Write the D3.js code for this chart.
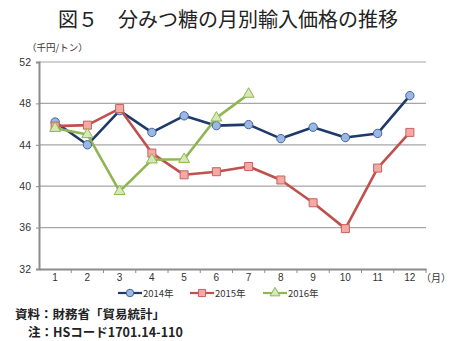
<!DOCTYPE html>
<html><head><meta charset="utf-8">
<script src="https://cdn.jsdelivr.net/npm/d3@7"></script>
<style>
html,body{margin:0;padding:0;background:#fff;}
svg{display:block;font-family:"Noto Sans CJK JP","Noto Sans",sans-serif;}
</style></head>
<body>
<script>
const months = ["1","2","3","4","5","6","7","8","9","10","11","12"];
const yTicks = [32, 36, 40, 44, 48, 52];
const seriesNames = ["2014年", "2015年", "2016年"];
const v2014 = [46.2, 44.0, 47.3, 45.2, 46.8, 45.85, 45.95, 44.6, 45.7, 44.7, 45.1, 48.75];
const v2015 = [45.8, 45.9, 47.5, 43.2, 41.1, 41.4, 41.9, 40.6, 38.4, 35.9, 41.75, 45.2];
const v2016 = [45.6, 45.0, 39.5, 42.55, 42.6, 46.6, 48.9];
const titleText = "図５　分みつ糖の月別輸入価格の推移";
const unitText = "（千円/トン）";
const monthUnit = "（月）";
const note1 = "資料：財務省「貿易統計」";
const note2 = "注：HSコード1701.14-110";

const W = 453, H = 341;
const svg = d3.select("body").append("svg").attr("width", W).attr("height", H);

const x = d3.scaleBand().domain(months).range([39, 426]).paddingInner(0).paddingOuter(0);
const y = d3.scaleLinear().domain([32, 52]).range([269, 62]);
const cx = m => x(m) + x.bandwidth() / 2;

// title
svg.append("text").attr("x", 228).attr("y", 27).attr("text-anchor", "middle")
  .attr("font-size", 20).attr("fill", "#222").text(titleText);
// unit
svg.append("text").attr("x", 27).attr("y", 51).attr("font-size", 9.5).attr("fill", "#333").text(unitText);

// gridlines
svg.append("g").selectAll("line").data(yTicks.filter(t => t > 32)).join("line")
  .attr("x1", 39).attr("x2", 426).attr("y1", d => y(d)).attr("y2", d => y(d))
  .attr("stroke", "#a6a6a6").attr("stroke-width", 1.2);

// y axis
const yAxis = d3.axisLeft(y).tickValues(yTicks).tickSize(3).tickPadding(5).tickFormat(d3.format("d"));
const gy = svg.append("g").attr("transform", "translate(39,0)").call(yAxis);
gy.select(".domain").attr("stroke", "#8c8c8c").attr("stroke-width", 2);
gy.selectAll(".tick line").attr("stroke", "#8c8c8c");
gy.selectAll("text").attr("font-size", 10.5).attr("fill", "#333").attr("font-family", "Liberation Sans, Arial, sans-serif");

// x axis
const xAxis = d3.axisBottom(x).tickSize(0).tickPadding(5);
const gx = svg.append("g").attr("transform", "translate(0,269)").call(xAxis);
gx.select(".domain").attr("stroke", "#8c8c8c").attr("stroke-width", 2);
gx.selectAll("text").attr("font-size", 10).attr("fill", "#333").attr("font-family", "Liberation Sans, Arial, sans-serif");
// boundary tick marks
svg.append("g").selectAll("line").data(months.slice(1).concat(["end"])).join("line")
  .attr("x1", (d, i) => i < 11 ? x(d) : 426).attr("x2", (d, i) => i < 11 ? x(d) : 426)
  .attr("y1", 269).attr("y2", 273).attr("stroke", "#8c8c8c").attr("stroke-width", 1);
svg.append("text").attr("x", 421).attr("y", 282).attr("font-size", 10).attr("fill", "#333").text(monthUnit);

const styles = [
  {vals: v2014, line: "#1f3a68", fill: "#9db8e0", stroke: "#3f64a6", shape: "circle"},
  {vals: v2015, line: "#c0504d", fill: "#f4a9a6", stroke: "#c9605c", shape: "square"},
  {vals: v2016, line: "#8fb651", fill: "#d6e8b8", stroke: "#8fb651", shape: "triangle"}
];
const sym = {circle: d3.symbolCircle, square: d3.symbolSquare, triangle: d3.symbolTriangle};
const size = {circle: 55, square: 64, triangle: 52};

const line = d3.line().x((d, i) => cx(months[i])).y(d => y(d));
styles.forEach(s => {
  svg.append("path").datum(s.vals).attr("d", line).attr("fill", "none")
    .attr("stroke", s.line).attr("stroke-width", 2.6).attr("stroke-linejoin", "round");
});
styles.forEach(s => {
  svg.append("g").selectAll("path").data(s.vals).join("path")
    .attr("transform", (d, i) => `translate(${cx(months[i])},${y(d)})`)
    .attr("d", d3.symbol().type(sym[s.shape]).size(size[s.shape]))
    .attr("fill", s.fill).attr("stroke", s.stroke).attr("stroke-width", 1);
});

// legend
const legX = [118, 190, 263];
seriesNames.forEach((n, i) => {
  const s = styles[i];
  const g = svg.append("g").attr("transform", `translate(${legX[i]},293)`);
  g.append("line").attr("x1", 0).attr("x2", 24).attr("stroke", s.line).attr("stroke-width", 2.2);
  g.append("path").attr("transform", "translate(12,0)")
    .attr("d", d3.symbol().type(sym[s.shape]).size(size[s.shape] * 0.8))
    .attr("fill", s.fill).attr("stroke", s.stroke).attr("stroke-width", 1);
  g.append("text").attr("x", 25).attr("y", 3.5).attr("font-size", 9.5).attr("fill", "#333").text(n);
});

// notes
svg.append("text").attr("x", 15).attr("y", 319).attr("font-size", 12.5).attr("fill", "#222").attr("font-weight", "bold").text(note1);
svg.append("text").attr("x", 28).attr("y", 337).attr("font-size", 12.5).attr("fill", "#222").attr("font-weight", "bold").text(note2);
</script>
</body></html>
